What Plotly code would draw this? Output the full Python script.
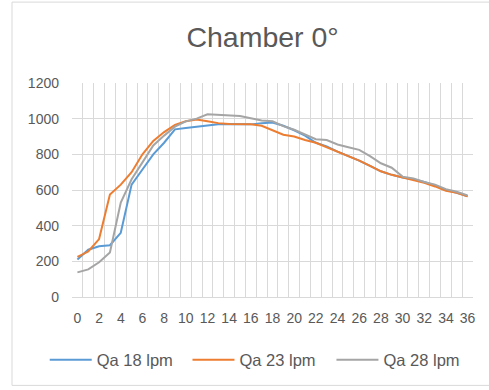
import plotly.graph_objects as go

# Time axis (categories) and measured series
minutes = list(range(37))

qa_18 = [210, 265, 285, 290, 360, 630, 715, 800, 865, 940, 948, 955, 962, 968, 970,
         970, 968, 975, 978, 960, 935, 905, 865, 845, 815, 790, 765, 735, 705, 685,
         670, 660, 645, 625, 600, 585, 565]
qa_23 = [225, 255, 325, 575, 630, 700, 800, 875, 925, 965, 985, 995, 985, 975, 970,
         970, 968, 960, 937, 910, 900, 880, 865, 840, 815, 790, 765, 735, 705, 685,
         670, 655, 640, 620, 595, 585, 565]
qa_28 = [138, 155, 195, 250, 530, 660, 755, 850, 905, 955, 985, 1000, 1025, 1022, 1020,
         1015, 1002, 990, 985, 958, 938, 910, 885, 880, 855, 840, 825, 790, 750, 725,
         675, 665, 645, 630, 605, 590, 570]

series = [
    ("Qa 18 lpm", qa_18, "#5B9BD5"),
    ("Qa 23 lpm", qa_23, "#ED7D31"),
    ("Qa 28 lpm", qa_28, "#A5A5A5"),
]

x_ticks = list(range(0, 37, 2))
y_ticks = list(range(0, 1201, 200))

text_color = "#595959"
grid_color = "#D9D9D9"
frame_color = "#D9D9D9"

# one legend box per series so the entries sit on a single row
legend_ids = ["legend", "legend2", "legend3"]
legend_x = [-0.068, 0.288, 0.647]

fig = go.Figure()
for (name, values, color), lid in zip(series, legend_ids):
    fig.add_trace(go.Scatter(
        x=minutes, y=values, name=name, mode="lines",
        line=dict(color=color, width=2), legend=lid,
    ))

legend_style = dict(orientation="h", xanchor="left", y=-0.295, yanchor="middle",
                    font=dict(size=16.5, color=text_color), itemwidth=42,
                    bgcolor="rgba(0,0,0,0)")

# chart-area frame (left, top and bottom edges)
frame_left, frame_right = -0.1496, 1.3
frame_bottom, frame_top = -0.413, 1.378
frame = [
    dict(type="line", xref="paper", yref="paper", x0=frame_left, x1=frame_left,
         y0=frame_bottom, y1=frame_top, line=dict(color=frame_color, width=1)),
    dict(type="line", xref="paper", yref="paper", x0=frame_left, x1=frame_right,
         y0=frame_top, y1=frame_top, line=dict(color=frame_color, width=1)),
    dict(type="line", xref="paper", yref="paper", x0=frame_left, x1=frame_right,
         y0=frame_bottom, y1=frame_bottom, line=dict(color=frame_color, width=1)),
]

fig.update_layout(
    width=489, height=390,
    margin=dict(l=72, r=16, t=83, b=91),
    paper_bgcolor="white", plot_bgcolor="white",
    font=dict(family="Liberation Sans, Arial, sans-serif", color=text_color),
    title=dict(text="Chamber 0°", x=0.537, xanchor="center", y=0.905, yanchor="middle",
               font=dict(size=28.5, color=text_color)),
    showlegend=True,
    legend=dict(x=legend_x[0], **legend_style),
    legend2=dict(x=legend_x[1], **legend_style),
    legend3=dict(x=legend_x[2], **legend_style),
    shapes=frame,
)

fig.update_xaxes(
    range=[-0.5, 36.5],
    tickmode="array", tickvals=x_ticks, ticktext=[str(v) for v in x_ticks],
    showgrid=False, zeroline=False,
    showline=True, linecolor=grid_color, linewidth=1,
    ticks="", ticklen=0,
    tickfont=dict(size=14, color=text_color),
    ticklabelstandoff=8,
    minor=dict(tick0=-0.5, dtick=1, showgrid=True, gridcolor=grid_color, gridwidth=1),
    fixedrange=True,
)
fig.update_yaxes(
    range=[0, 1200],
    tickmode="array", tickvals=y_ticks,
    showgrid=True, gridcolor=grid_color, gridwidth=1,
    zeroline=False, showline=False, ticks="",
    tickfont=dict(size=14, color=text_color),
    ticklabelstandoff=12,
    fixedrange=True,
)

fig.write_html("out.html")
